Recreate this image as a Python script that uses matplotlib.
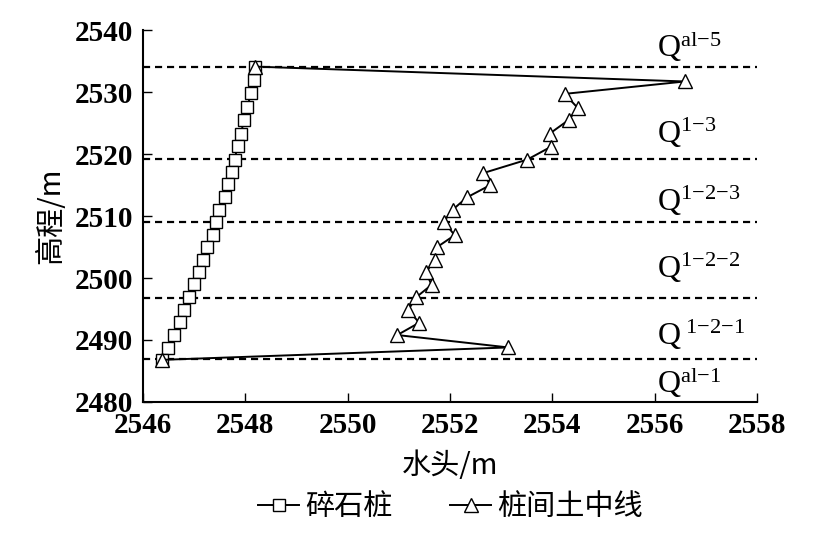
"""
Head profile along depth: gravel pile vs. soil midline between piles.
"""

import matplotlib

matplotlib.use("Agg")
import matplotlib.pyplot as plt

# 碎石桩 (gravel pile) head, top to bottom
pile_head = [
    2548.19, 2548.16, 2548.11, 2548.04, 2547.98, 2547.91, 2547.85, 2547.79,
    2547.74, 2547.67, 2547.60, 2547.49, 2547.42, 2547.36, 2547.25, 2547.18,
    2547.10, 2547.00, 2546.90, 2546.80, 2546.72, 2546.61, 2546.48, 2546.38,
]
pile_elev = [
    2534.1, 2531.9, 2529.8, 2527.6, 2525.5, 2523.3, 2521.3, 2519.1,
    2517.1, 2515.2, 2513.0, 2511.0, 2509.1, 2507.0, 2505.0, 2502.9,
    2500.9, 2499.0, 2496.9, 2494.9, 2492.9, 2490.8, 2488.7, 2486.8,
]

# 桩间土中线 (soil midline between piles)
soil_head = [
    2548.19, 2556.59, 2554.24, 2554.50, 2554.32, 2553.95, 2553.98, 2553.51,
    2552.64, 2552.79, 2552.33, 2552.05, 2551.88, 2552.09, 2551.75, 2551.70,
    2551.53, 2551.64, 2551.34, 2551.18, 2551.40, 2550.97, 2553.14, 2546.38,
]
soil_elev = [
    2534.1, 2531.7, 2529.7, 2527.4, 2525.5, 2523.3, 2521.2, 2519.1,
    2516.9, 2515.0, 2513.0, 2511.0, 2509.1, 2506.9, 2505.0, 2502.9,
    2500.9, 2498.9, 2496.9, 2494.8, 2492.8, 2490.8, 2488.8, 2486.8,
]

# stratum boundaries (dashed lines) and labels
layer_bounds = [2534.1, 2519.2, 2509.1, 2496.8, 2486.9]
layer_labels = [
    r"$\mathrm{Q}^{\mathrm{al{-}5}}$",
    r"$\mathrm{Q}^{\mathrm{1{-}3}}$",
    r"$\mathrm{Q}^{\mathrm{1{-}2{-}3}}$",
    r"$\mathrm{Q}^{\mathrm{1{-}2{-}2}}$",
    r"$\mathrm{Q}^{\ \mathrm{1{-}2{-}1}}$",
    r"$\mathrm{Q}^{\mathrm{al{-}1}}$",
]
label_elev = [2537.4, 2523.4, 2512.4, 2501.6, 2490.9, 2483.2]

x_ticks = [2546, 2548, 2550, 2552, 2554, 2556, 2558]
y_ticks = [2480, 2490, 2500, 2510, 2520, 2530, 2540]

SERIF = "Liberation Serif"
CJK = ["Noto Sans CJK SC", "DejaVu Sans"]

plt.rcParams["font.family"] = SERIF
plt.rcParams["mathtext.fontset"] = "custom"
plt.rcParams["mathtext.rm"] = SERIF
plt.rcParams["mathtext.it"] = SERIF + ":italic"

fig = plt.figure(figsize=(8.19, 5.38), dpi=100)
ax = fig.add_axes([0.1746, 0.2528, 0.7497, 0.6914])

for yb in layer_bounds:
    ax.axhline(yb, color="black", lw=1.6, ls=(0, (3.2, 2.2)), zorder=1)

ax.plot(
    pile_head, pile_elev, "-s", color="black", lw=1.4, ms=8,
    mfc="white", mec="black", mew=1.0, label="碎石桩", zorder=3,
)
ax.plot(
    soil_head, soil_elev, "-^", color="black", lw=1.4, ms=9.5,
    mfc="white", mec="black", mew=1.0, label="桩间土中线", zorder=4,
)

for txt, ye in zip(layer_labels, label_elev):
    ax.text(2556.05, ye, txt, fontsize=23, ha="left", va="center")

ax.set_xlim(2546, 2558)
ax.set_ylim(2480, 2540)
ax.set_xticks(x_ticks)
ax.set_yticks(y_ticks)
ax.tick_params(direction="in", length=6.5, width=1.0, labelsize=21)
ax.tick_params(axis="x", pad=7)
ax.tick_params(axis="y", pad=7)
for lbl in ax.get_xticklabels() + ax.get_yticklabels():
    lbl.set_fontweight("bold")
for side in ("top", "right"):
    ax.spines[side].set_visible(False)
for side in ("left", "bottom"):
    ax.spines[side].set_linewidth(1.5)

ax.set_xlabel("水头/m", family=CJK, fontsize=21, labelpad=9)
ax.set_ylabel("高程/m", family=CJK, fontsize=21, labelpad=6)

leg = fig.legend(
    loc="center", bbox_to_anchor=(0.55, 0.058), ncol=2, frameon=False,
    prop={"family": CJK, "size": 21}, handlelength=1.4, handletextpad=0.2,
    columnspacing=2.0, markerscale=1.0,
)

fig.savefig("out.png", dpi=100)
